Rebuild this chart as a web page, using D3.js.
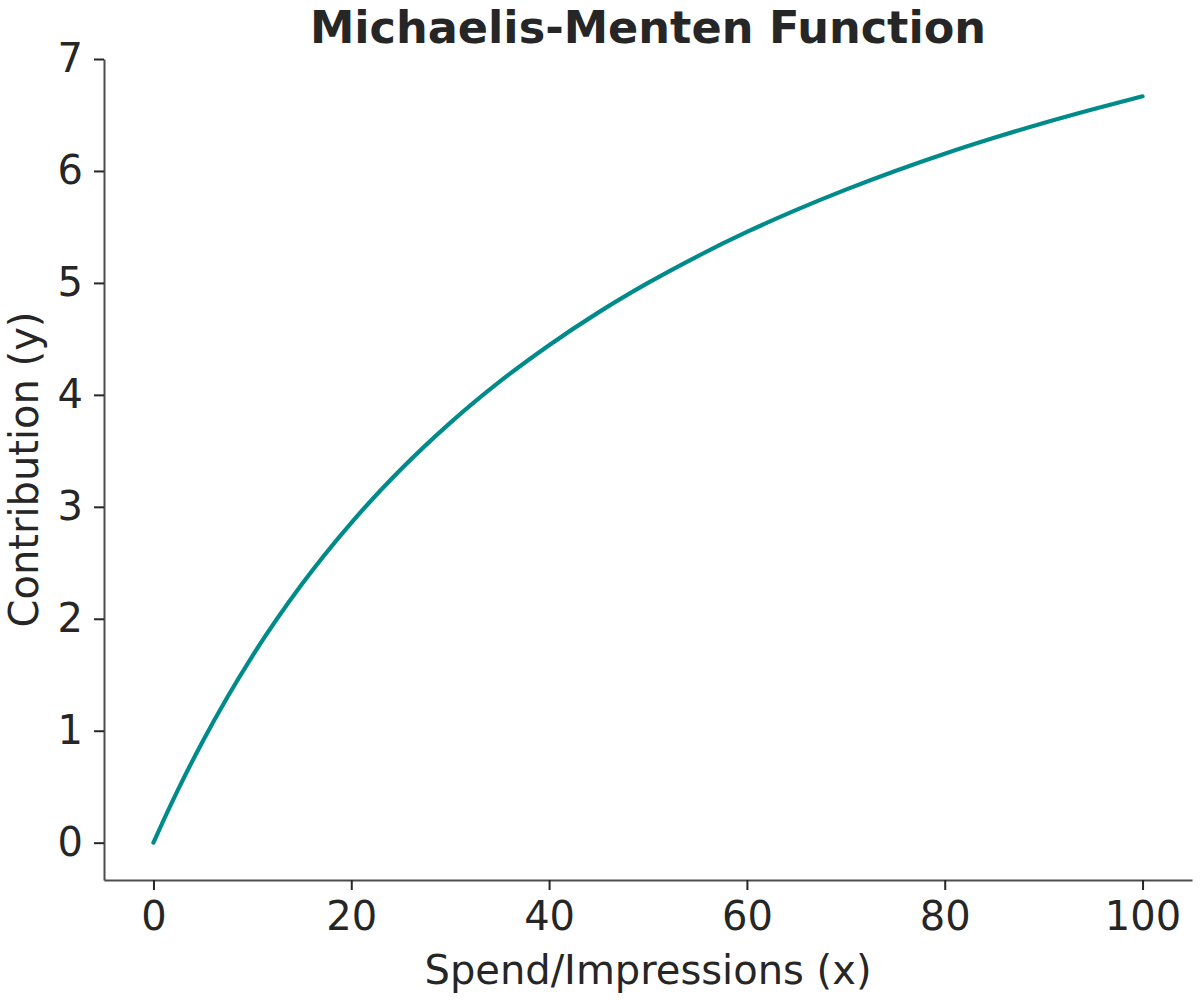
<!DOCTYPE html>
<html>
<head>
<meta charset="utf-8">
<script src="https://cdn.jsdelivr.net/npm/d3@7"></script>
<style>
  body { margin: 0; background: #fff; }
  svg { display: block; font-family: "DejaVu Sans", sans-serif; }
</style>
</head>
<body>
<script>
// --- Data ---
const spend = [0, 1, 2.5, 5, 7.5, 10, 15, 20, 25, 30, 35, 40, 45, 50, 55, 60, 65, 70, 75, 80, 85, 90, 95, 100];
const contribution = [0, 0.196, 0.476, 0.909, 1.304, 1.667, 2.308, 2.857, 3.333, 3.750, 4.118, 4.444, 4.737, 5.000,
                      5.238, 5.455, 5.652, 5.833, 6.000, 6.154, 6.296, 6.429, 6.552, 6.667];
const xTicks = [0, 20, 40, 60, 80, 100];
const yTicks = [0, 1, 2, 3, 4, 5, 6, 7];

// --- Layout ---
const W = 1200, H = 1000;
const plotL = 104, plotR = 1192, plotT = 59, plotB = 880;
const TEXT = "#262626", SPINE = "#4d4d4d", LINE = "#008b8b";

const svg = d3.select("body").append("svg")
  .attr("width", W).attr("height", H);

const x = d3.scaleLinear().domain([-5, 105]).range([plotL, plotR]);
const y = d3.scaleLinear().domain([-1 / 3, 7]).range([plotB, plotT]);

// Axes
const gx = svg.append("g")
  .attr("transform", `translate(0,${plotB})`)
  .call(d3.axisBottom(x).tickValues(xTicks).tickFormat(d3.format("d"))
    .tickSize(10).tickSizeOuter(0).tickPadding(12));

const gy = svg.append("g")
  .attr("transform", `translate(${plotL},0)`)
  .call(d3.axisLeft(y).tickValues(yTicks).tickFormat(d3.format("d"))
    .tickSize(10).tickSizeOuter(0).tickPadding(11));

[gx, gy].forEach(g => {
  g.select(".domain").attr("stroke", SPINE).attr("stroke-width", 2);
  g.selectAll(".tick line").attr("stroke", TEXT).attr("stroke-width", 2);
  g.selectAll(".tick text")
    .attr("fill", TEXT)
    .attr("font-size", 40)
    .attr("font-family", "DejaVu Sans, sans-serif");
});

// Curve
const line = d3.line()
  .x((d, i) => x(spend[i]))
  .y(d => y(d))
  .curve(d3.curveMonotoneX);

svg.append("path")
  .datum(contribution)
  .attr("d", line)
  .attr("fill", "none")
  .attr("stroke", LINE)
  .attr("stroke-width", 4.2)
  .attr("stroke-linecap", "round")
  .attr("stroke-linejoin", "round");

// Title and labels
svg.append("text")
  .attr("x", (plotL + plotR) / 2).attr("y", 43)
  .attr("text-anchor", "middle")
  .attr("font-size", 44.6)
  .attr("font-weight", "bold")
  .attr("fill", TEXT)
  .text("Michaelis-Menten Function");

svg.append("text")
  .attr("x", (plotL + plotR) / 2).attr("y", 984)
  .attr("text-anchor", "middle")
  .attr("font-size", 40)
  .attr("fill", TEXT)
  .text("Spend/Impressions (x)");

svg.append("text")
  .attr("transform", `translate(38,${(plotT + plotB) / 2}) rotate(-90)`)
  .attr("text-anchor", "middle")
  .attr("font-size", 40)
  .attr("fill", TEXT)
  .text("Contribution (y)");
</script>
</body>
</html>
